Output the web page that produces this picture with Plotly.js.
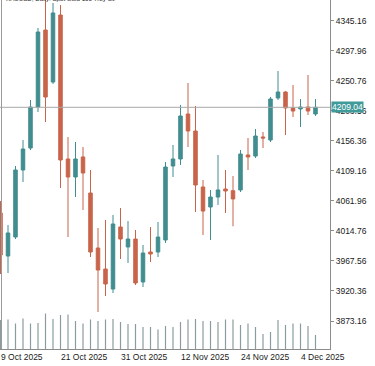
<!DOCTYPE html>
<html><head><meta charset="utf-8">
<script src="https://cdn.plot.ly/plotly-3.0.1.min.js"></script>
<style>html,body{margin:0;padding:0;background:#fff;overflow:hidden}#chart{width:375px;height:366px}</style>
</head><body><div id="chart"></div>
<script>
const dates = ['2025-10-09','2025-10-10','2025-10-13','2025-10-14','2025-10-15','2025-10-16','2025-10-17',
  '2025-10-20','2025-10-21','2025-10-22','2025-10-23','2025-10-24','2025-10-27','2025-10-28','2025-10-29',
  '2025-10-30','2025-10-31','2025-11-03','2025-11-04','2025-11-05','2025-11-06','2025-11-07','2025-11-10',
  '2025-11-11','2025-11-12','2025-11-13','2025-11-14','2025-11-17','2025-11-18','2025-11-19','2025-11-20',
  '2025-11-21','2025-11-24','2025-11-25','2025-11-26','2025-11-27','2025-11-28','2025-12-01','2025-12-02',
  '2025-12-03','2025-12-04','2025-12-05','2025-12-08'];
const open  = [4042.9,3975.3,4005.2,4110.5,4145.1,4209.5,4330.5,4248.8,4354.1,4127.8,4099.5,4131.0,4074.3,3987.9,3954.9,
  3923.4,4020.9,3989.5,4002.0,3934.5,3981.6,3981.6,4000.5,4116.8,4127.8,4198.5,4171.8,4083.8,4052.3,4068.0,4080.6,
  4078.0,4079.1,4134.1,4132.5,4162.4,4157.6,4223.7,4233.1,4207.9,4206.4,4209.5,4198.5];
const high  = [4061.7,4024.1,4116.8,4157.6,4220.5,4333.7,4382.4,4373.0,4369.8,4162.3,4154.5,4146.6,4110.5,4019.3,4031.9,
  4039.8,4050.8,4030.3,4016.2,3992.6,4020.9,4028.8,4123.0,4149.8,4212.7,4247.2,4211.1,4094.8,4079.0,4134.1,4110.5,
  4101.1,4141.9,4160.8,4174.9,4170.2,4225.2,4266.1,4234.5,4244.1,4222.1,4259.8,4222.1];
const low   = [3947.0,3948.6,4002.0,4091.6,4141.9,4201.7,4185.9,4245.7,4082.2,4005.2,4068.0,4047.6,3973.7,3887.3,3912.5,
  3917.2,3970.6,3964.3,3929.7,3926.6,3965.9,3973.7,3995.8,4099.5,4118.4,4146.6,4044.5,4008.3,4000.5,4055.5,4042.9,
  4022.0,4075.9,4110.5,4129.4,4145.1,4154.5,4220.5,4165.5,4193.8,4178.1,4196.9,4195.4];
const close = [3976.9,4011.5,4110.5,4143.5,4209.5,4327.4,4225.2,4357.3,4126.2,4099.5,4127.8,4105.8,3981.6,3953.3,3931.3,
  4025.6,4002.0,4002.0,3932.9,3980.0,3978.5,4005.1,4115.2,4127.8,4195.4,4171.8,4086.9,4046.0,4068.0,4079.1,4077.5,
  4065.0,4135.6,4131.0,4163.9,4160.8,4222.1,4233.1,4207.9,4203.2,4209.5,4203.2,4209.04];
const volume = [290000,295000,255000,305000,255000,260000,355000,300000,340000,345000,280000,255000,295000,280000,295000,
  300000,270000,250000,250000,220000,220000,195000,230000,220000,270000,295000,300000,280000,280000,270000,295000,
  295000,240000,255000,220000,150000,170000,290000,240000,255000,255000,230000,140000];
const tickDates  = ['2025-10-09','2025-10-21','2025-10-31','2025-11-12','2025-11-24','2025-12-04'];
const tickLabels = ['9 Oct 2025','21 Oct 2025','31 Oct 2025','12 Nov 2025','24 Nov 2025','4 Dec 2025'];
const priceTicks = [3873.16,3920.36,3967.56,4014.76,4061.96,4109.16,4156.36,4203.56,4250.76,4297.96,4345.16];
const chartTitle = 'XAUUSD, Daily: Spot Gold 100 Troy Oz';

const idx = dates.map((d, i) => i);
const lastPrice = close[close.length - 1];
const bull = '#418d8f', bear = '#c8644a';
const font = {family: 'Liberation Sans, Arial, sans-serif', size: 8.5, color: '#1a1a1a'};

const traces = [
  {type: 'bar', x: idx, y: volume, yaxis: 'y2', width: 0.16, marker: {color: '#8a9c9e', line: {width: 0}},
   hoverinfo: 'skip', showlegend: false},
  {type: 'candlestick', x: idx, open: open, high: high, low: low, close: close, whiskerwidth: 0,
   increasing: {line: {color: bull, width: 1}, fillcolor: bull},
   decreasing: {line: {color: bear, width: 1}, fillcolor: bear},
   hoverinfo: 'skip', showlegend: false}
];

const layout = {
  width: 375, height: 366,
  margin: {l: 0, r: 45, t: 0, b: 17, pad: 0},
  paper_bgcolor: '#fff', plot_bgcolor: '#fff',
  showlegend: false, font: font,
  boxgap: 0.3, boxgroupgap: 0.33,
  xaxis: {type: 'linear', range: [-0.0667, 43.933], rangeslider: {visible: false},
    tickvals: tickDates.map(d => dates.indexOf(d)), ticktext: tickLabels,
    ticklabelposition: 'outside right', ticks: '', showgrid: false, zeroline: false,
    showline: true, linecolor: '#8c8c8c', linewidth: 1, tickfont: font, automargin: false, fixedrange: true},
  yaxis: {side: 'right', range: [3829.15, 4377.70], tickvals: priceTicks, ticktext: priceTicks.map(v => v.toFixed(2)),
    ticks: 'outside', ticklen: 3, tickcolor: '#8c8c8c', showgrid: false, zeroline: false,
    showline: true, linecolor: '#8c8c8c', linewidth: 1, tickfont: font, automargin: false, fixedrange: true},
  yaxis2: {overlaying: 'y', range: [0, 3490000], visible: false, fixedrange: true},
  shapes: [
    {type: 'line', xref: 'paper', yref: 'y', x0: 0, x1: 1, y0: lastPrice, y1: lastPrice,
     line: {color: '#a8a8a8', width: 1}},
    {type: 'line', xref: 'paper', yref: 'paper', x0: 1.5/330, x1: 1.5/330, y0: 0, y1: 1,
     line: {color: '#9a9a9a', width: 1}}
  ],
  annotations: [
    {xref: 'paper', yref: 'y', x: 1, y: lastPrice, xanchor: 'left', yanchor: 'middle', xshift: 1,
     text: lastPrice.toFixed(2), showarrow: false, bgcolor: '#3f9a9a', borderpad: 0,
     font: {family: font.family, size: 8.5, color: '#ffffff'}},
    {xref: 'paper', yref: 'paper', x: 0, y: 1, xanchor: 'left', yanchor: 'bottom', xshift: 4, yshift: -4,
     text: chartTitle, showarrow: false, font: {family: font.family, size: 6.2, color: '#1a1a1a'}}
  ]
};

Plotly.newPlot('chart', traces, layout, {staticPlot: true, displayModeBar: false});
</script></body></html>
